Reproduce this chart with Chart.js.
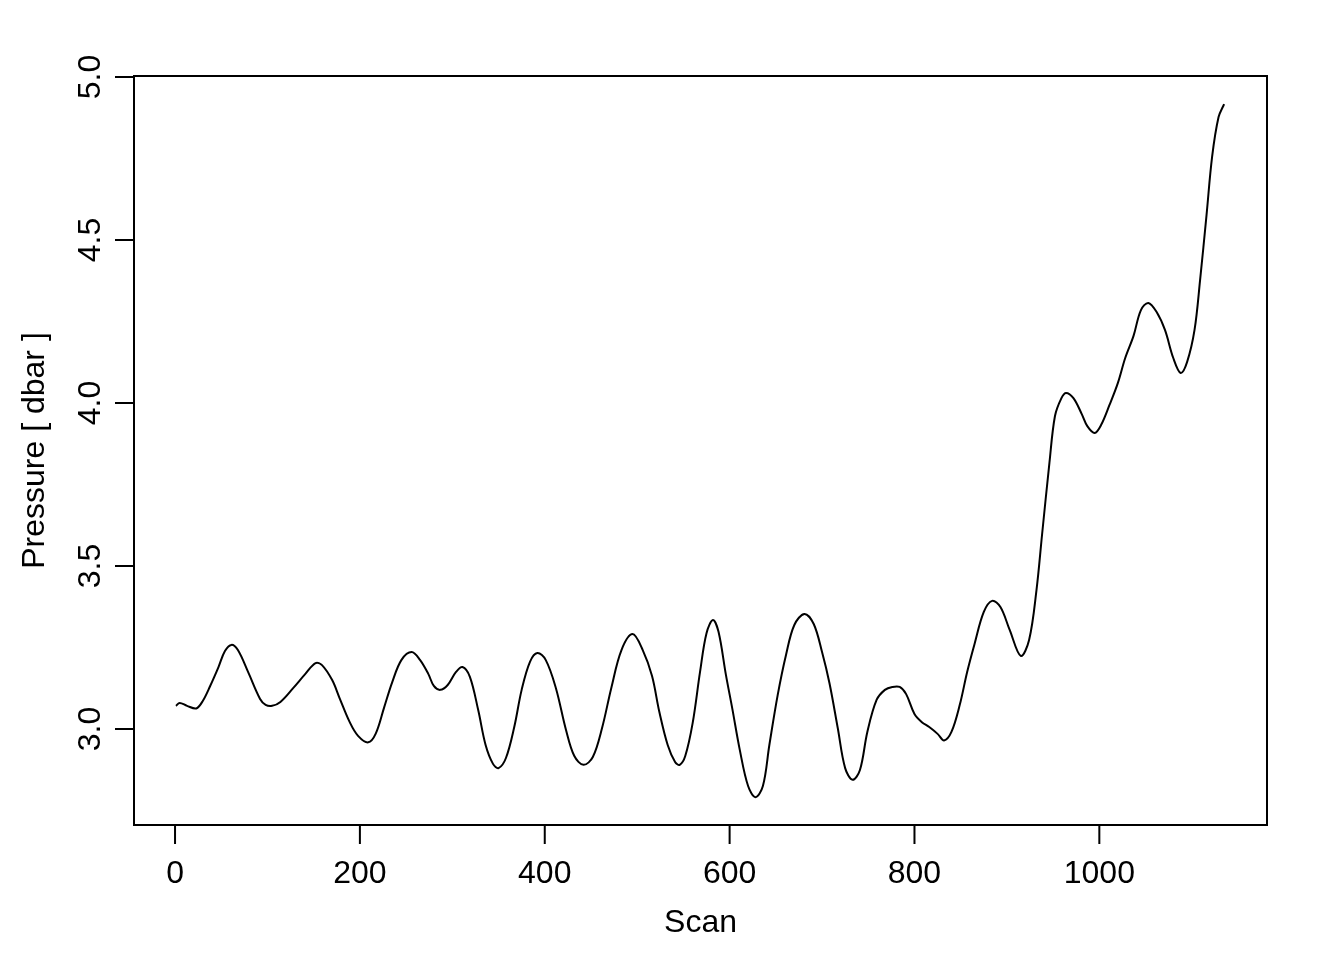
<!DOCTYPE html>
<html>
<head>
<meta charset="utf-8">
<script src="https://cdn.jsdelivr.net/npm/chart.js@4"></script>
<style>
  body { margin: 0; background: #fff; }
  #wrap { width: 1344px; height: 960px; }
</style>
</head>
<body>
<div id="wrap"><canvas id="pressureGraph" width="1344" height="960"></canvas></div>
<script>
let scan = [1, 5, 13, 23, 30, 38, 47, 54, 61, 68, 79, 92, 98, 105, 114, 128, 141, 152, 159, 170,
  178, 189, 198, 209, 217, 226, 235, 245, 256, 265, 274, 280, 287, 295, 304, 311, 319, 328, 336, 344,
  350, 358, 367, 375, 384, 392, 401, 412, 423, 432, 442, 452, 462, 472, 483, 495, 506, 516, 524, 533,
  541, 546, 552, 560, 568, 575, 582, 588, 596, 603, 611, 620, 628, 636, 643, 652, 661, 670, 681, 691,
  700, 708, 717, 725, 733, 741, 749, 759, 768, 776, 784, 791, 800, 808, 816, 825, 832, 840, 849, 857,
  865, 875, 884, 893, 903, 915, 924, 932, 938, 946, 952, 959, 964, 972, 981, 987, 995, 1002, 1011, 1020,
  1028, 1037, 1045, 1053, 1062, 1071, 1080, 1088, 1095, 1103, 1109, 1116, 1122, 1129, 1135];
let pressure = [3.071, 3.080, 3.071, 3.063, 3.086, 3.132, 3.190, 3.239, 3.258, 3.242, 3.175, 3.092, 3.074, 3.071, 3.083, 3.126, 3.169, 3.202, 3.196, 3.150,
  3.095, 3.021, 2.979, 2.959, 2.985, 3.064, 3.144, 3.212, 3.236, 3.212, 3.169, 3.132, 3.120, 3.135, 3.175, 3.190, 3.160, 3.058, 2.951, 2.893,
  2.880, 2.911, 3.006, 3.120, 3.206, 3.233, 3.212, 3.126, 2.997, 2.917, 2.890, 2.914, 3.003, 3.126, 3.242, 3.291, 3.242, 3.163, 3.052, 2.951,
  2.899, 2.890, 2.917, 3.018, 3.175, 3.294, 3.334, 3.298, 3.166, 3.061, 2.936, 2.825, 2.791, 2.825, 2.951, 3.104, 3.227, 3.319, 3.353, 3.322,
  3.236, 3.141, 3.003, 2.880, 2.844, 2.874, 2.991, 3.089, 3.120, 3.129, 3.129, 3.107, 3.046, 3.021, 3.006, 2.985, 2.965, 2.991, 3.074, 3.175,
  3.261, 3.359, 3.393, 3.374, 3.304, 3.224, 3.273, 3.426, 3.595, 3.816, 3.960, 4.015, 4.031, 4.015, 3.966, 3.929, 3.908, 3.933, 3.994, 4.061,
  4.138, 4.206, 4.285, 4.307, 4.279, 4.224, 4.138, 4.092, 4.126, 4.224, 4.377, 4.577, 4.755, 4.877, 4.917];
let xTicks = [0, 200, 400, 600, 800, 1000];
let yTicks = [3.0, 3.5, 4.0, 4.5, 5.0];
let yTickLabels = ['3.0', '3.5', '4.0', '4.5', '5.0'];

let font = '32px "Liberation Sans", Arial, Helvetica, sans-serif';

// R style box, axes and labels drawn from the chart's scales
let rAxes = {
  id: 'rAxes',
  afterDraw(chart) {
    let ctx = chart.ctx;
    let a = chart.chartArea;
    let xs = chart.scales.x;
    let ys = chart.scales.y;
    ctx.save();
    ctx.strokeStyle = '#000';
    ctx.fillStyle = '#000';
    ctx.lineWidth = 2;
    ctx.strokeRect(a.left, a.top, a.right - a.left, a.bottom - a.top);

    ctx.font = font;
    ctx.textAlign = 'center';
    ctx.textBaseline = 'alphabetic';
    // x axis
    let x0 = xs.getPixelForValue(xTicks[0]);
    let x1 = xs.getPixelForValue(xTicks[xTicks.length - 1]);
    ctx.beginPath();
    ctx.moveTo(x0, a.bottom);
    ctx.lineTo(x1, a.bottom);
    xTicks.forEach(v => {
      let px = xs.getPixelForValue(v);
      ctx.moveTo(px, a.bottom);
      ctx.lineTo(px, a.bottom + 19);
    });
    ctx.stroke();
    xTicks.forEach(v => {
      ctx.fillText(String(v), xs.getPixelForValue(v), a.bottom + 58);
    });
    ctx.fillText('Scan', (a.left + a.right) / 2, a.bottom + 107);

    // y axis
    let y0 = ys.getPixelForValue(yTicks[0]);
    let y1 = ys.getPixelForValue(yTicks[yTicks.length - 1]);
    ctx.beginPath();
    ctx.moveTo(a.left, y0);
    ctx.lineTo(a.left, y1);
    yTicks.forEach(v => {
      let py = ys.getPixelForValue(v);
      ctx.moveTo(a.left, py);
      ctx.lineTo(a.left - 19, py);
    });
    ctx.stroke();
    yTicks.forEach((v, i) => {
      ctx.save();
      ctx.translate(a.left - 34, ys.getPixelForValue(v));
      ctx.rotate(-Math.PI / 2);
      ctx.fillText(yTickLabels[i], 0, 0);
      ctx.restore();
    });
    ctx.save();
    ctx.translate(44, (a.top + a.bottom) / 2);
    ctx.rotate(-Math.PI / 2);
    ctx.fillText('Pressure [ dbar ]', 0, 0);
    ctx.restore();
    ctx.restore();
  }
};

let myGraph = document.getElementById('pressureGraph').getContext('2d');

let graph = new Chart(myGraph, {
  type: 'line',
  data: {
    datasets: [{
      data: scan.map((s, i) => ({ x: s, y: pressure[i] })),
      borderColor: '#000',
      borderWidth: 2,
      pointRadius: 0,
      tension: 0.35,
      fill: false
    }]
  },
  options: {
    responsive: false,
    animation: false,
    layout: { padding: { left: 134, top: 76, right: 77, bottom: 135 } },
    plugins: {
      legend: { display: false },
      tooltip: { enabled: false }
    },
    scales: {
      x: { type: 'linear', min: -44.4, max: 1181.4, display: false },
      y: { type: 'linear', min: 2.7055, max: 5.003, display: false }
    }
  },
  plugins: [rAxes]
});
</script>
</body>
</html>
